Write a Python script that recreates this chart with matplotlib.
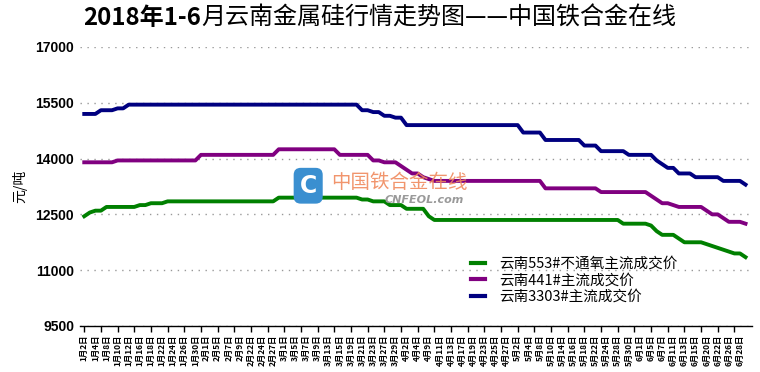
import numpy as np
import matplotlib
matplotlib.use("Agg")
import matplotlib.pyplot as plt

plt.rcParams['font.family'] = ['Noto Sans CJK SC', 'DejaVu Sans']

# tick labels (every other trading day is labelled)
date_labels = ["1月2日", "1月4日", "1月8日", "1月10日", "1月12日", "1月16日", "1月18日", "1月22日",
               "1月24日", "1月26日", "1月30日", "2月1日", "2月5日", "2月7日", "2月9日", "2月22日",
               "2月24日", "2月27日", "3月1日", "3月5日", "3月7日", "3月9日", "3月13日", "3月15日",
               "3月19日", "3月21日", "3月23日", "3月27日", "3月29日", "4月2日", "4月4日", "4月9日",
               "4月11日", "4月13日", "4月17日", "4月19日", "4月23日", "4月25日", "4月27日", "5月2日",
               "5月4日", "5月8日", "5月10日", "5月14日", "5月16日", "5月18日", "5月22日", "5月24日",
               "5月28日", "5月30日", "6月1日", "6月5日", "6月7日", "6月11日", "6月13日", "6月15日",
               "6月20日", "6月22日", "6月26日", "6月28日"]

# price series, one value per trading day
price_553 = [12450, 12550, 12600, 12600, 12700, 12700, 12700, 12700, 12700, 12700,
             12750, 12750, 12800, 12800, 12800, 12850, 12850, 12850, 12850, 12850,
             12850, 12850, 12850, 12850, 12850, 12850, 12850, 12850, 12850, 12850,
             12850, 12850, 12850, 12850, 12850, 12950, 12950, 12950, 12950, 12950,
             12950, 12950, 12950, 12950, 12950, 12950, 12950, 12950, 12950, 12950,
             12900, 12900, 12850, 12850, 12850, 12750, 12750, 12750, 12650, 12650,
             12650, 12650, 12450, 12350, 12350, 12350, 12350, 12350, 12350, 12350,
             12350, 12350, 12350, 12350, 12350, 12350, 12350, 12350, 12350, 12350,
             12350, 12350, 12350, 12350, 12350, 12350, 12350, 12350, 12350, 12350,
             12350, 12350, 12350, 12350, 12350, 12350, 12350, 12250, 12250, 12250,
             12250, 12250, 12200, 12050, 11950, 11950, 11950, 11850, 11750, 11750,
             11750, 11750, 11700, 11650, 11600, 11550, 11500, 11450, 11450, 11350]

price_441 = [13900, 13900, 13900, 13900, 13900, 13900, 13950, 13950, 13950, 13950,
             13950, 13950, 13950, 13950, 13950, 13950, 13950, 13950, 13950, 13950,
             13950, 14100, 14100, 14100, 14100, 14100, 14100, 14100, 14100, 14100,
             14100, 14100, 14100, 14100, 14100, 14250, 14250, 14250, 14250, 14250,
             14250, 14250, 14250, 14250, 14250, 14250, 14100, 14100, 14100, 14100,
             14100, 14100, 13950, 13950, 13900, 13900, 13900, 13800, 13700, 13600,
             13600, 13500, 13450, 13400, 13400, 13400, 13400, 13400, 13400, 13400,
             13400, 13400, 13400, 13400, 13400, 13400, 13400, 13400, 13400, 13400,
             13400, 13400, 13400, 13200, 13200, 13200, 13200, 13200, 13200, 13200,
             13200, 13200, 13200, 13100, 13100, 13100, 13100, 13100, 13100, 13100,
             13100, 13100, 13000, 12900, 12800, 12800, 12750, 12700, 12700, 12700,
             12700, 12700, 12600, 12500, 12500, 12400, 12300, 12300, 12300, 12250]

price_3303 = [15200, 15200, 15200, 15300, 15300, 15300, 15350, 15350, 15450, 15450,
              15450, 15450, 15450, 15450, 15450, 15450, 15450, 15450, 15450, 15450,
              15450, 15450, 15450, 15450, 15450, 15450, 15450, 15450, 15450, 15450,
              15450, 15450, 15450, 15450, 15450, 15450, 15450, 15450, 15450, 15450,
              15450, 15450, 15450, 15450, 15450, 15450, 15450, 15450, 15450, 15450,
              15300, 15300, 15250, 15250, 15150, 15150, 15100, 15100, 14900, 14900,
              14900, 14900, 14900, 14900, 14900, 14900, 14900, 14900, 14900, 14900,
              14900, 14900, 14900, 14900, 14900, 14900, 14900, 14900, 14900, 14700,
              14700, 14700, 14700, 14500, 14500, 14500, 14500, 14500, 14500, 14500,
              14350, 14350, 14350, 14200, 14200, 14200, 14200, 14200, 14100, 14100,
              14100, 14100, 14100, 13950, 13850, 13750, 13750, 13600, 13600, 13600,
              13500, 13500, 13500, 13500, 13500, 13400, 13400, 13400, 13400, 13300]

series_names = ["云南553#不通氧主流成交价", "云南441#主流成交价", "云南3303#主流成交价"]
series_colors = ["#008000", "#800080", "#000080"]

x = np.arange(len(price_553))

fig = plt.figure(figsize=(7.6, 3.72), dpi=100)
ax = fig.add_axes([0.105, 0.1237, 0.884, 0.75])

for vals, name, col in zip([price_553, price_441, price_3303], series_names, series_colors):
    ax.plot(x, vals, color=col, lw=2.8, label=name, solid_joinstyle='round')

ax.set_ylim(9500, 17000)
ax.set_xlim(-0.8, 120.1)
ax.set_yticks(np.arange(9500, 17001, 1500))
ax.tick_params(axis='y', length=0, pad=4)
for lab in ax.get_yticklabels():
    lab.set_fontweight('bold')
    lab.set_fontsize(10)
    lab.set_fontfamily('Liberation Sans')
ax.grid(axis='y', linestyle=(0, (1, 4)), color='#999999', lw=1)

# tick marks every 3 points, labels every 2 points
ax.xaxis.remove_overlapping_locs = False
ax.set_xticks(np.arange(0, len(x), 3))
ax.set_xticklabels([])
ax.tick_params(axis='x', which='major', length=4, width=1, direction='out')
ax.set_xticks(np.arange(0, len(x), 2), minor=True)
ax.set_xticklabels(date_labels, minor=True, rotation=90, fontsize=6, fontweight='bold', va='top')
ax.tick_params(axis='x', which='minor', length=0, pad=6)

for s in ['top', 'right', 'left']:
    ax.spines[s].set_visible(False)
ax.spines['bottom'].set_linewidth(1)

ax.set_ylabel("元/吨", fontsize=10, labelpad=6)

leg = ax.legend(loc='upper left', bbox_to_anchor=(0.583, 0.248), frameon=False,
                fontsize=10.5, handlelength=0.9, handletextpad=1.0, labelspacing=0.18,
                borderpad=0, borderaxespad=0)
for line in leg.get_lines():
    line.set_linewidth(3)

# title: bold first part, normal rest
t1 = fig.text(0.11, 0.952, "2018年1-6", ha='left', va='center', fontsize=17.3, fontweight='bold')
plt.annotate("月云南金属硅行情走势图——中国铁合金在线", xy=(1, 0.5), xycoords=t1,
             ha='left', va='center', fontsize=17.3, annotation_clip=False)

# watermark
ax.text(40.3, 13270, "C", ha='center', va='center', color='white', fontsize=17,
        fontweight='bold', fontfamily='DejaVu Sans',
        bbox=dict(boxstyle='round,pad=0.25,rounding_size=0.3', fc='#3a8fd0', ec='none'))
ax.text(44.5, 13370, "中国铁合金在线", ha='left', va='center', color='#f08a5d',
        fontsize=14, alpha=0.9)
ax.text(54, 12900, "CNFEOL.com", ha='left', va='center', color='#9a9a9a',
        fontsize=8, fontstyle='italic', fontweight='bold', fontfamily='DejaVu Sans')

fig.savefig("out.png", dpi=100)
